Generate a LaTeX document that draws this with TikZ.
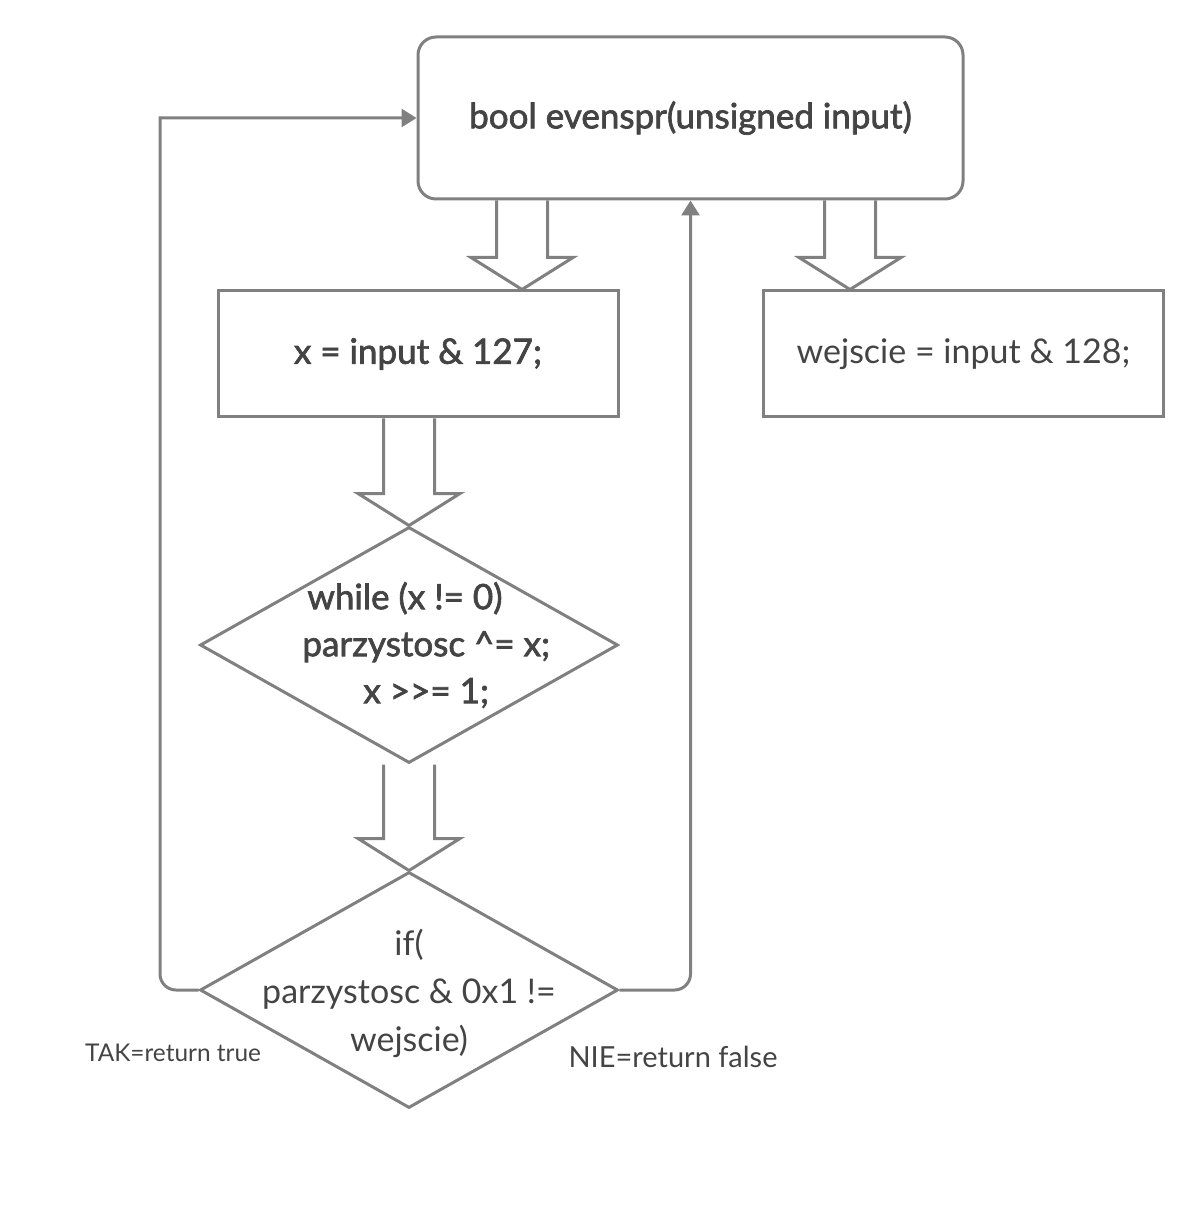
\documentclass[tikz,border=0pt]{standalone}
\usepackage{fontspec}
\setmainfont{Lato}
\newfontfamily\semib[FakeBold=2]{Lato}
\usetikzlibrary{shapes.geometric,arrows.meta,calc}
\definecolor{linegray}{HTML}{808080}
\definecolor{textgray}{HTML}{444444}

\tikzset{
  box/.style={draw=linegray,line width=1.5pt,text=textgray,minimum width=200pt,minimum height=63pt},
  cond/.style={diamond,draw=linegray,line width=1.5pt,inner sep=0pt,minimum width=209pt,minimum height=118pt},
  flow/.style={draw=linegray,line width=1.5pt,-{Triangle[length=7.5pt,width=9pt]}},
  note/.style={text=textgray},
}
% hollow block arrow: #1 top of shaft, #2 tip
\newcommand{\fatarrow}[2]{%
  \draw[linegray,line width=1.5pt]
    ($(#1)+(-25.5,0)$) -- ($(#2)+(-25.5,-32)$) -- ($(#2)+(-51,-32)$) -- (#2)
    -- ($(#2)+(51,-32)$) -- ($(#2)+(25.5,-32)$) -- ($(#1)+(25.5,0)$);}

\begin{document}
\begin{tikzpicture}[x=0.5pt,y=-0.5pt]
  \useasboundingbox (0,0) rectangle (1200,1218);
  \node[box,rounded corners=9pt,minimum width=272.5pt,minimum height=81pt,font=\semib\fontsize{17.5}{20}\selectfont]
    (main) at (690.5,118) {bool evenspr(unsigned input)};
  \node[box,font=\semib\fontsize{17.5}{20}\selectfont] (mask) at (418,354) {x = input \& 127;};
  \node[box,font=\fontsize{17}{20}\selectfont] (bit) at (963.5,354) {wejscie = input \& 128;};
  \node[cond] (loop) at (409,645) {};
  \node[anchor=west,inner sep=0pt,align=left,text=textgray,font=\semib\fontsize{17.5}{23.5}\selectfont] (looptext) at (302,645)
    {\hspace*{2.5pt}while (x != 0)\\parzystosc \textasciicircum= x;\\\hspace*{30.5pt}x >{}>= 1;};
  \node[cond] (check) at (409,990) {};
  \node[align=center,text=textgray,font=\fontsize{17}{24}\selectfont] (checktext) at (409,993)
    {if(\\parzystosc \& 0x1 !=\\wejscie)};
  \node[note,font=\fontsize{12.2}{15}\selectfont] (yes) at (173,1053) {TAK=return true};
  \node[note,font=\fontsize{14.5}{17}\selectfont] (no) at (673,1057) {NIE=return false};

  \coordinate (c1) at (522,0);
  \coordinate (c2) at (850,0);
  \coordinate (c3) at (160,118);
  \fatarrow{main.south -| c1}{mask.north -| c1}
  \fatarrow{main.south -| c2}{bit.north -| c2}
  \fatarrow{mask.south -| loop.north}{loop.north}
  \fatarrow{loop.south}{check.north}

  \draw[flow] (check.west) [rounded corners=8pt] -- (check.west -| c3) [sharp corners] -- (c3) -- (main.west);
  \draw[flow,rounded corners=8pt] (check.east) -| (main.south);
\end{tikzpicture}
\end{document}
